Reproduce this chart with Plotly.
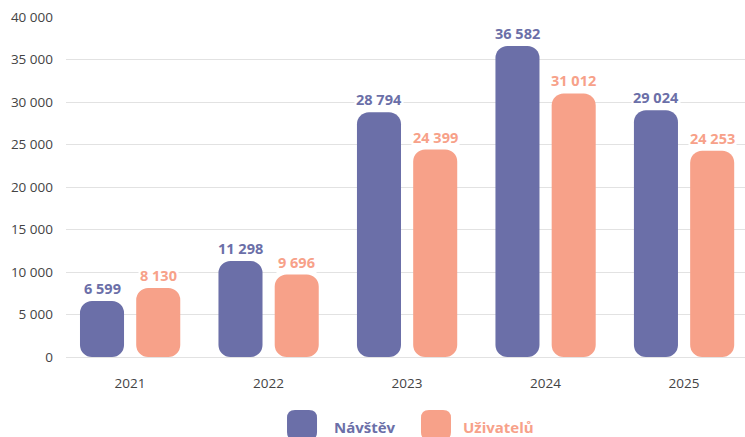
import plotly.graph_objects as go

years = ["2021", "2022", "2023", "2024", "2025"]
navstev = [6599, 11298, 28794, 36582, 29024]
uzivatelu = [8130, 9696, 24399, 31012, 24253]
series_names = ["Návštěv", "Uživatelů"]
y_ticks = [0, 5000, 10000, 15000, 20000, 25000, 30000, 35000, 40000]

PURPLE = "#6B6FA8"
SALMON = "#F7A189"
FONT = "Open Sans"


def fmt(v):
    return f"{v:,}".replace(",", " ")


xs = list(range(len(years)))
W = 0.318
offsets = [-0.361, 0.045]
colors = [PURPLE, SALMON]

fig = go.Figure()
for name, vals, off, col in zip(series_names, [navstev, uzivatelu], offsets, colors):
    fig.add_trace(go.Bar(x=xs, y=vals, base=[0] * len(vals),
                         width=W, offset=off, marker=dict(color=col, line_width=0),
                         name=name, showlegend=False, hoverinfo="skip"))
    for x, v in zip(xs, vals):
        fig.add_annotation(x=x + off + W / 2, y=v, xref="x", yref="y", text=f"<b>{fmt(v)}</b>",
                           showarrow=False, yanchor="bottom", yshift=1,
                           font=dict(family=FONT, size=14.5, color=col),
                           bgcolor="white", borderpad=1)

# custom legend
leg_pos = [(0.3476, 0.3918), (0.5449, 0.5817)]
path = ("M -15,-7 Q -15,-15 -7,-15 L 7,-15 Q 15,-15 15,-7 L 15,7 Q 15,15 7,15 "
        "L -7,15 Q -15,15 -15,7 Z")
for (sx, tx), name, col in zip(leg_pos, series_names, colors):
    fig.add_shape(type="path", xref="paper", yref="paper", xsizemode="pixel", ysizemode="pixel",
                  xanchor=sx, yanchor=-0.2, path=path, fillcolor=col, line_width=0)
    fig.add_annotation(x=tx, y=-0.205, xref="paper", yref="paper", text=f"<b>{name}</b>",
                       showarrow=False, xanchor="left", yanchor="middle",
                       font=dict(family=FONT, size=15, color=col))

fig.update_layout(
    width=745, height=437,
    margin=dict(l=66, r=0, t=17, b=80),
    plot_bgcolor="white", paper_bgcolor="white",
    barmode="overlay", barcornerradius=12,
    showlegend=False,
    xaxis=dict(range=[-0.462, 4.441], tickvals=xs, ticktext=years, showgrid=False,
               zeroline=False, showline=False, ticks="", automargin=False,
               ticklabelstandoff=16,
               tickfont=dict(family=FONT, size=13.5, color="#444")),
    yaxis=dict(range=[0, 40000], tickvals=y_ticks, ticktext=[fmt(t) for t in y_ticks],
               showgrid=True, gridcolor="#e2e2e2", gridwidth=1, zeroline=True,
               zerolinecolor="#e2e2e2", zerolinewidth=1, showline=False, ticks="",
               ticklabelstandoff=12, automargin=False,
               tickfont=dict(family=FONT, size=13.5, color="#444")),
)

fig.write_html("out.html", config={"displayModeBar": False},
               post_script="document.body.style.margin='0';document.body.style.overflow='hidden';")
